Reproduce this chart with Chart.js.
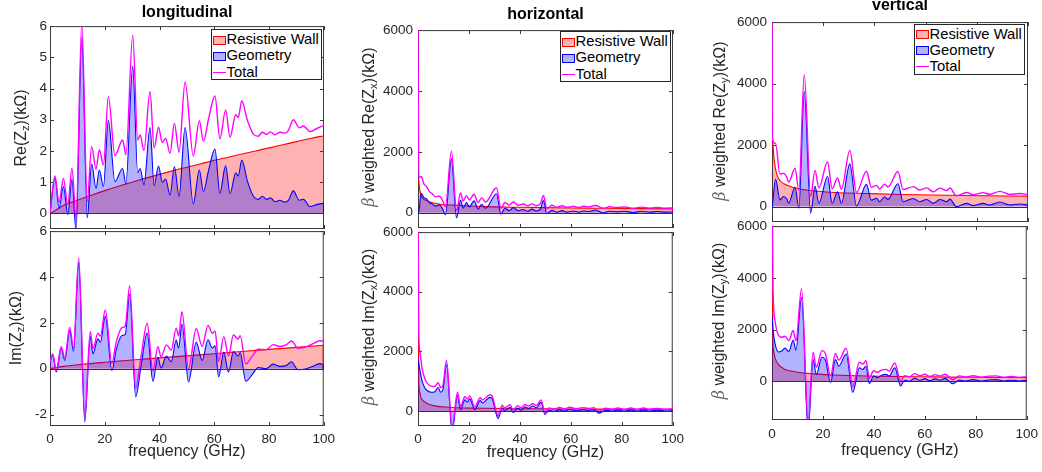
<!DOCTYPE html>
<html>
<head>
<meta charset="utf-8">
<script src="https://cdn.jsdelivr.net/npm/chart.js@4.4.1/dist/chart.umd.min.js"></script>
<style>
  body { margin: 0; background: #fff; }
  #fig { position: relative; width: 1042px; height: 472px; overflow: hidden;
         font-family: "Liberation Sans", Arial, sans-serif; color: #262626; }
  #fig canvas { position: absolute; }
  .lbl { position: absolute; white-space: nowrap; font-size: 16px; line-height: 18px;
         transform: translate(-50%, -50%); z-index: 5; }
  .ylab { transform: translate(-50%, -50%) rotate(-90deg); }
  .ttl { font-weight: bold; color: #000; }
  .lbl sub { font-size: 0.7em; line-height: 0; vertical-align: -0.3em; }
  .beta { font-family: "DejaVu Serif", serif; font-style: italic; color: #666; }
  .legend { position: absolute; z-index: 6; background: #fff; border: 1px solid #262626;
            box-sizing: border-box; height: 51px; padding-top: 1px; font-size: 14.8px; }
  .legend div { height: 16.3px; line-height: 16.3px; white-space: nowrap; color: #000; }
  .sw { display: inline-block; width: 13px; height: 9px; box-sizing: border-box;
        margin: 0 1px 0 1px; vertical-align: -0.5px; }
  .sw.rw { background: rgba(255,0,0,0.3); border: 1px solid #ff0000; }
  .sw.geo { background: rgba(0,0,255,0.3); border: 1px solid #0000ff; }
  .sw.tot { height: 1px; background: #ff00ff; vertical-align: 4px; }
</style>
</head>
<body>
<div id="fig">
  <div class="lbl ttl" style="left:187px;top:12px">longitudinal</div>
  <div class="lbl ttl" style="left:545.5px;top:14px">horizontal</div>
  <div class="lbl ttl" style="left:900px;top:4.5px">vertical</div>

  <div class="lbl ylab" style="left:20.5px;top:127.5px">Re(Z<sub>z</sub>)(kΩ)</div>
  <div class="lbl ylab" style="left:15.5px;top:328px">Im(Z<sub>z</sub>)(kΩ)</div>
  <div class="lbl ylab" style="left:368.5px;top:127px"><span class="beta">β</span> weighted Re(Z<sub>x</sub>)(kΩ)</div>
  <div class="lbl ylab" style="left:368.5px;top:327px"><span class="beta">β</span> weighted Im(Z<sub>x</sub>)(kΩ)</div>
  <div class="lbl ylab" style="left:720px;top:121px"><span class="beta">β</span> weighted Re(Z<sub>y</sub>)(kΩ)</div>
  <div class="lbl ylab" style="left:718.5px;top:321px"><span class="beta">β</span> weighted Im(Z<sub>y</sub>)(kΩ)</div>

  <div class="lbl" style="left:187px;top:451px">frequency (GHz)</div>
  <div class="lbl" style="left:545.5px;top:452px">frequency (GHz)</div>
  <div class="lbl" style="left:900px;top:450px">frequency (GHz)</div>
</div>

<script>
// ---------- tick labels ----------
const xTicks = [0, 20, 40, 60, 80, 100];
const zTicksRe = [0, 1, 2, 3, 4, 5, 6];
const zTicksIm = [-2, 0, 2, 4, 6];
const trTicks = [0, 2000, 4000, 6000];
const seriesNames = ['Resistive Wall', 'Geometry', 'Total'];

// ---------- longitudinal Re (kOhm) ----------
const lRe_f = [0,1.8,3.3,4.9,6.5,8.0,9.5,11.6,13.6,15.2,16.8,18.0,19.5,21.3,23.7,26.5,27.7,30.2,32.0,32.9,34.3,36.5,38.0,39.6,41.0,42.2,43.8,45.4,47.1,49.3,52.3,54.5,56.0,57.8,60.2,62.0,64.1,65.7,67.8,68.7,70.0,72.0,74.3,76.0,77.5,79.1,80.5,82.0,84.0,85.5,87.0,88.8,91.0,92.5,94.9,97.3,100];
const lRe_geom = [0,1.15,0.17,0.86,-0.04,1.09,-0.55,5.63,-0.14,1.58,0.8,1.39,0.86,2.98,1.02,1.44,0.94,4.71,1.3,1.44,0.91,2.75,0.89,1.52,1.0,1.1,0.59,1.5,0.54,2.75,0.31,1.39,0.7,1.35,2.06,0.65,1.53,0.63,1.3,1.2,1.71,1.05,0.54,0.45,0.55,0.45,0.5,0.38,0.42,0.36,0.42,0.72,0.42,0.45,0.22,0.28,0.33];
const lRe_total = [0,1.2,0.35,1.12,0.28,1.45,-0.15,6.09,0.38,2.14,1.41,2.04,1.55,3.74,1.85,2.35,1.88,5.71,2.35,2.51,2.01,3.91,2.09,2.76,2.27,2.4,1.93,2.88,1.96,4.21,1.84,2.97,2.31,3.0,3.76,2.39,3.31,2.44,3.16,3.07,3.61,2.99,2.53,2.47,2.6,2.53,2.61,2.52,2.6,2.57,2.66,3.0,2.74,2.8,2.62,2.72,2.82];
const lRe_rwF = [0,2,5,10,15,20,25,30,35,40,45,50,55,60,65,70,75,80,85,90,95,100];
const lRe_rw = [0,0.1,0.26,0.42,0.58,0.73,0.87,1.0,1.13,1.25,1.37,1.48,1.59,1.7,1.8,1.9,2.0,2.1,2.2,2.3,2.4,2.49];

// ---------- longitudinal Im (kOhm) ----------
const lIm_f = [0,1.0,2.3,4.1,5.4,7.2,8.6,10.5,12.7,14.7,15.7,17.5,18.4,20.2,22.6,24.2,26.3,27.5,29.1,31.3,33.3,35.5,37.6,39.4,40.6,42.5,44.3,46.1,47.0,48.2,50.6,53.4,55.6,57.7,59.3,60.3,61.6,63.5,65.2,67.0,68.7,69.5,71.5,74.2,76.0,79.0,81.5,84.0,86.4,88.2,90.6,93.7,96.0,98.5,100];
const lIm_geom = [0.3,0.6,-0.14,0.88,0.36,1.66,0.75,4.65,-2.33,1.4,0.65,1.3,1.15,2.28,-0.09,0.84,1.45,1.5,3.25,-1.23,0.15,1.55,-0.55,0.5,0.03,0.55,0.3,1.25,0.9,1.95,-0.58,1.15,0.36,1.26,0.9,1.0,-0.36,0.72,-0.15,0.75,0.55,0.7,-0.55,-0.2,0.05,0.0,0.2,0.1,0.15,0.3,-0.05,0.0,0.1,0.22,0.18];
const lIm_total = [0.3,0.64,-0.09,0.96,0.47,1.8,0.9,4.83,-2.13,1.62,0.88,1.55,1.41,2.56,0.22,1.16,1.79,1.86,3.62,-0.84,0.56,1.98,-0.1,0.96,0.51,1.04,0.81,1.77,1.43,2.49,-0.01,1.74,0.97,1.89,1.54,1.65,0.31,1.4,0.55,1.47,1.29,1.44,0.21,0.59,0.85,0.83,1.05,0.97,1.05,1.21,0.89,0.96,1.08,1.22,1.2];
const lIm_rwF = [0,5,10,20,30,40,50,60,70,80,90,100];
const lIm_rw = [0,0.1,0.17,0.28,0.38,0.47,0.56,0.65,0.75,0.84,0.93,1.02];

// ---------- horizontal Re (beta weighted, kOhm) ----------
const hRe_f = [0,0.3,1.3,2.3,3.3,4.5,5.5,6.8,8.5,9.5,10.8,13.1,15.1,16.7,17.7,19.0,20.1,22.0,23.6,24.9,26.5,30.8,32.5,34.1,35.8,37.4,39.3,41.3,43.0,44.7,46.3,48.0,49.2,50.5,52.5,54.5,56.5,58.5,61,63,65,67,69.5,72.7,75,78,81,84.5,87.5,91,94,97,100];
const hRe_geom = [0,30,640,500,460,330,300,220,260,150,-65,1770,-170,410,150,335,195,390,120,280,150,626,-45,150,65,170,65,110,50,120,60,130,400,-30,80,20,70,20,60,20,60,40,90,0,50,30,50,10,50,20,40,20,30];
const hRe_total = [6400,1140,1190,950,865,695,635,530,545,428,205,2025,75,648,384,564,420,608,333,489,355,820,146,339,251,354,246,289,226,294,232,300,569,138,245,183,231,180,217,176,214,192,240,148,196,174,191,149,187,154,172,150,158];
const hRe_rwF = [0.25,0.6,1.3,2.5,4,6,9,14,20,30,40,50,60,70,80,90,100];
const hRe_rw = [1120,800,550,430,380,320,280,250,225,195,180,168,158,150,142,135,128];

// ---------- horizontal Im ----------
const hIm_f = [0,0.3,0.7,1.6,2.6,3.7,5.3,6.6,7.9,8.9,9.8,11.2,13.4,15.5,16.7,18.4,19.3,20.3,22.3,24.4,25.3,28.2,29.1,31.5,33.0,34.1,36.1,37.4,39.0,40.5,42.0,43.5,45.0,46.5,48.3,49.8,51.5,53.5,55.5,57.5,59.5,62,64.5,67,69,71,73.5,76,78.5,81,83.5,86,88.5,91,94,97,100];
const hIm_geom = [1750,1600,1400,1010,790,680,630,650,790,630,720,1560,-700,520,45,375,300,410,45,350,275,460,410,-250,110,20,130,-50,100,30,140,90,170,110,300,-110,30,-10,50,0,60,10,50,20,50,-70,30,0,40,0,40,0,40,0,30,0,20];
const hIm_total = [7750,2650,2030,1430,1100,930,830,825,950,785,865,1695,-575,635,155,480,403,510,143,445,370,550,500,-165,195,104,213,32,182,110,220,170,248,188,376,-35,104,63,122,71,130,79,117,87,116,-4,95,65,104,64,103,63,102,62,91,61,80];
const hIm_rwF = [0,0.3,0.7,1.2,2,4,6.6,12,18,25,30,40,50,60,70,80,90,100];
const hIm_rw = [6500,1050,630,450,350,240,175,130,105,95,88,80,75,70,67,64,62,60];

// ---------- vertical Re ----------
const vRe_f = [0,0.2,1.4,3.1,4.5,5.8,6.5,9.0,10.5,12.6,15.1,16.8,18.3,21.7,23.5,25.6,27.1,30.4,33.0,36.9,38.8,40.8,42.0,44.0,45.3,49.2,51.2,55.2,57.8,60.4,63.0,65.6,68.2,69.5,72.0,76.0,78.6,82.5,85.0,89.0,92.9,96.8,100];
const vRe_geom = [0,80,900,220,330,250,110,640,-50,3750,-210,660,110,980,110,480,110,1390,20,725,210,270,160,320,235,745,160,265,160,234,106,234,160,245,0,106,32,106,53,150,53,85,53];
const vRe_total = [6500,2200,2050,1060,1080,950,790,1250,530,4300,330,1180,610,1450,580,930,560,1830,460,1150,630,690,575,730,640,1140,555,650,540,610,480,600,520,605,355,460,385,455,400,495,395,425,393];
const vRe_rwF = [0.1,0.9,1.8,3.1,5.1,7.7,11.6,18,24.5,37.5,50.5,75,100];
const vRe_rw = [2290,1490,1070,850,725,640,565,500,460,425,395,360,340];

// ---------- vertical Im ----------
const vIm_f = [0,0.4,1.2,2.5,3.8,5.1,6.6,8.3,9.4,11.6,14.2,16.1,17.4,19.6,20.9,23.0,24.9,26.2,29.1,31.7,34.3,35.6,36.9,38.2,39.9,41.4,43.0,44.7,46.0,48.2,50.5,52,54,56,58,60,62,64,66,68,71,73.5,76,79,82,85,88,91,94,97,100];
const vIm_geom = [2500,2000,1450,1130,1170,1280,1150,1580,1200,3250,-1900,835,266,925,835,-50,835,580,1050,-430,520,456,580,-90,200,140,230,266,200,520,-180,40,0,120,40,100,20,90,40,110,-100,50,10,60,10,50,60,10,40,10,30];
const vIm_total = [8500,3600,2330,1780,1700,1740,1570,1960,1560,3580,-1600,1120,540,1185,1090,200,1075,815,1275,-210,735,668,790,118,405,342,430,460,392,708,2,218,176,292,210,270,187,255,203,271,58,206,164,212,160,198,206,155,183,150,170];
const vIm_rwF = [0,0.3,0.6,1.2,2.5,5.1,9,14,24.5,37.5,50,60,70,80,90,100];
const vIm_rw = [7000,1700,1200,900,650,456,368,304,240,200,180,170,160,152,146,140];

const FONT = '"Liberation Sans", Arial, sans-serif';
const AXIS = '#3a3a3a';

const pts = (xs, ys) => xs.map((x, i) => ({ x: x, y: ys[i] }));

// MATLAB look: box, inward ticks, area baseline and closing edges
const matlabAxes = {
    id: 'matlabAxes',
    beforeDatasetsDraw(chart) {
        const { ctx, chartArea: a, scales } = chart;
        const x = scales.x, y = scales.y;
        ctx.save();
        ctx.lineWidth = 1;
        ctx.strokeStyle = AXIS;
        ctx.strokeRect(a.left + 0.5, a.top + 0.5, a.right - a.left - 1, a.bottom - a.top - 1);
        ctx.beginPath();
        x.ticks.forEach(t => {
            const px = Math.round(x.getPixelForValue(t.value)) + 0.5;
            ctx.moveTo(px, a.bottom); ctx.lineTo(px, a.bottom - 4);
            ctx.moveTo(px, a.top); ctx.lineTo(px, a.top + 4);
        });
        y.ticks.forEach(t => {
            const py = Math.round(y.getPixelForValue(t.value)) + 0.5;
            ctx.moveTo(a.left, py); ctx.lineTo(a.left + 4, py);
            ctx.moveTo(a.right, py); ctx.lineTo(a.right - 4, py);
        });
        ctx.stroke();
        ctx.restore();
    },
    afterDatasetsDraw(chart) {
        const { ctx, chartArea: a, scales } = chart;
        const y = scales.y;
        ctx.save();
        ctx.lineWidth = 1;
        const y0 = Math.round(y.getPixelForValue(0)) + 0.5;
        ctx.strokeStyle = '#2a1f9c';
        ctx.beginPath(); ctx.moveTo(a.left, y0); ctx.lineTo(a.right, y0); ctx.stroke();

        // closing edge of the two area plots at the right end
        [0, 1].forEach(i => {
            const meta = chart.getDatasetMeta(i);
            const last = meta.data[meta.data.length - 1];
            const top = Math.max(a.top, Math.min(a.bottom, last.y));
            ctx.strokeStyle = chart.data.datasets[i].borderColor;
            ctx.beginPath();
            ctx.moveTo(a.right - 0.5, y0); ctx.lineTo(a.right - 0.5, top);
            ctx.stroke();
        });
        ctx.restore();
    }
};

function makePanel(p) {
    const fig = document.getElementById('fig');
    const cv = document.createElement('canvas');
    const w = p.r - p.l + 64, h = p.b - p.t + 32;
    cv.width = w; cv.height = h;
    cv.style.left = (p.l - 48) + 'px';
    cv.style.top = (p.t - 10) + 'px';
    cv.style.width = w + 'px';
    cv.style.height = h + 'px';
    fig.appendChild(cv);

    const tickFont = { family: FONT, size: 13.5 };
    new Chart(cv.getContext('2d'), {
        type: 'line',
        data: {
            datasets: [
                { label: seriesNames[0], data: pts(p.rwF, p.rw), order: 2,
                  borderColor: '#ff0000', backgroundColor: 'rgba(255,0,0,0.3)', fill: 'origin' },
                { label: seriesNames[1], data: pts(p.f, p.geom), order: 1,
                  borderColor: '#0000ff', backgroundColor: 'rgba(0,0,255,0.3)', fill: 'origin' },
                { label: seriesNames[2], data: pts(p.f, p.total), order: 0,
                  borderColor: '#ff00ff', borderWidth: 1.4, fill: false }
            ]
        },
        options: {
            responsive: false,
            animation: false,
            events: [],
            layout: { padding: { left: 0, right: 16, top: 10, bottom: 0 } },
            plugins: { legend: { display: false }, tooltip: { enabled: false } },
            elements: {
                point: { radius: 0 },
                line: { borderWidth: 1.1, cubicInterpolationMode: 'monotone' }
            },
            scales: {
                x: {
                    type: 'linear', min: 0, max: 100,
                    afterBuildTicks: s => { s.ticks = xTicks.map(v => ({ value: v })); },
                    afterFit: s => { s.height = 22; },
                    grid: { display: false, drawTicks: false },
                    border: { display: false },
                    ticks: { display: p.showX, padding: p.xPad, color: '#262626', font: tickFont, maxRotation: 0 }
                },
                y: {
                    type: 'linear', min: p.yMin, max: p.yMax,
                    afterBuildTicks: s => { s.ticks = p.yTicks.map(v => ({ value: v })); },
                    afterFit: s => { s.width = 48; },
                    grid: { display: false, drawTicks: false },
                    border: { display: false },
                    ticks: { padding: p.yPad, color: '#262626', font: tickFont, callback: v => String(v) }
                }
            }
        },
        plugins: [matlabAxes]
    });
}

function makeLegend(left, top) {
    const fig = document.getElementById('fig');
    const box = document.createElement('div');
    box.className = 'legend';
    box.style.left = left + 'px';
    box.style.top = top + 'px';
    box.style.width = '111px';
    box.innerHTML =
        `<div><span class="sw rw"></span>${seriesNames[0]}</div>` +
        `<div><span class="sw geo"></span>${seriesNames[1]}</div>` +
        `<div><span class="sw tot"></span>${seriesNames[2]}</div>`;
    fig.appendChild(box);
}

window.addEventListener('DOMContentLoaded', () => {
    // lower panels first so the upper ones sit above them
    makePanel({ l: 50, r: 324, t: 230, b: 426, f: lIm_f, geom: lIm_geom, total: lIm_total, rwF: lIm_rwF, rw: lIm_rw,
                yMin: -2.5, yMax: 6, yTicks: zTicksIm, showX: true, xPad: 5, yPad: 3 });
    makePanel({ l: 418, r: 673, t: 229, b: 426, f: hIm_f, geom: hIm_geom, total: hIm_total, rwF: hIm_rwF, rw: hIm_rw,
                yMin: -500, yMax: 6000, yTicks: trTicks, showX: true, xPad: 5, yPad: 5 });
    makePanel({ l: 772, r: 1028, t: 223, b: 420, f: vIm_f, geom: vIm_geom, total: vIm_total, rwF: vIm_rwF, rw: vIm_rw,
                yMin: -1500, yMax: 6000, yTicks: trTicks, showX: true, xPad: 6, yPad: 5 });
    makePanel({ l: 50, r: 324, t: 25, b: 229, f: lRe_f, geom: lRe_geom, total: lRe_total, rwF: lRe_rwF, rw: lRe_rw,
                yMin: -0.5, yMax: 6, yTicks: zTicksRe, showX: false, xPad: 5, yPad: 3 });
    makePanel({ l: 418, r: 673, t: 27, b: 228, f: hRe_f, geom: hRe_geom, total: hRe_total, rwF: hRe_rwF, rw: hRe_rw,
                yMin: -500, yMax: 6000, yTicks: trTicks, showX: false, xPad: 5, yPad: 5 });
    makePanel({ l: 772, r: 1028, t: 19, b: 222, f: vRe_f, geom: vRe_geom, total: vRe_total, rwF: vRe_rwF, rw: vRe_rw,
                yMin: -500, yMax: 6000, yTicks: trTicks, showX: false, xPad: 5, yPad: 5 });

    makeLegend(210.5, 29);
    makeLegend(559.5, 31);
    makeLegend(913.5, 23.5);
});
</script>
</body>
</html>
